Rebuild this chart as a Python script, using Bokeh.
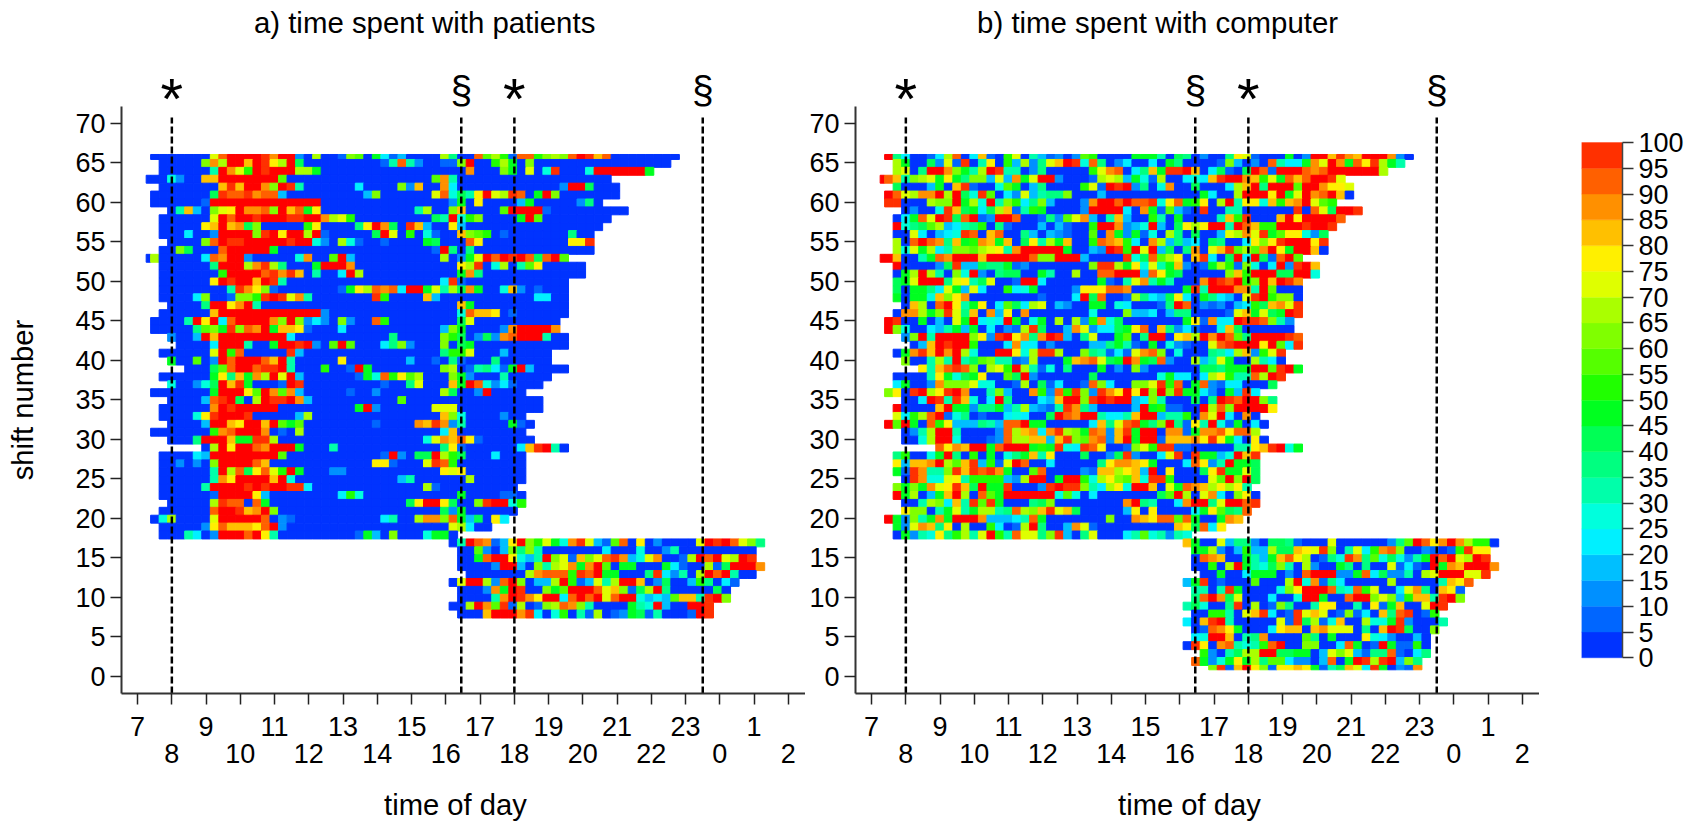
from bokeh.embed import file_html
from bokeh.resources import INLINE
from bokeh.plotting import figure
from bokeh.layouts import row
from bokeh.models import (ColumnDataSource, LinearColorMapper, LinearAxis, FixedTicker,
                          Range1d, AllLabels)
from bokeh.transform import transform

FONT = "Liberation Sans"

# level codes: 0-9,a-j = the 5 % classes of the colour bar, k = full 100 %
CODES = "0123456789abcdefghijk"
CLASS_COLORS = ["#0033ff", "#0066ff", "#0090ff", "#00bfff", "#00f0ff", "#00ffdd", "#00ffaa", "#00ff80",
                "#00ff55", "#00ff20", "#20ff00", "#55ff00", "#80ff00", "#aaff00", "#dfff00", "#fff000",
                "#ffc000", "#ff9000", "#ff6000", "#ff3000"]
FULL_COLOR = "#ff0000"
GAP = "." * 36

patients_rows = {
66: ".0000000ei kkkkjhkk20 d001cb0941 30000d700i bda1iiacdc ikjgi00000 000",
65: "..00000chd kkgkjfdk80 0000000016 i620011ck0 0ad90c0000 0000000000 00",
64: "..0000006k heakjkkkdd 9000000000 00000000h0 00c90e05j0 005kkkkkk9",
63: "0005200ggk kkkkkkb000 0000000000 0000bh6000 0000000000 00000",
62: "..0000000g jgkkhckj60 0000040000 c2g00h4000 0000000002 kk8000",
61: ".00000008j iijhii3000 0000003c00 0000ei586f kedji09kc0 000000",
60: ".0000001kk kkkkkkkkkk k000000000 000000290f 0000390000 0270",
59: "...06g30ce fkhhickgi9 f000000000 006d00cg00 00bkkkk100 0000000",
58: "..000000ek ikkjkkkjjk khdea00000 000086k5ac 00009kb000 00000",
57: "..00000fgk gh8c00000a f00007fkh8 0jg300f300 0000000000 0000",
56: "..0004002k kkkcjkfkkd k1000008ke 0a05100gcb a010000000 700",
55: "...0000cik jjkkkkkjkk 520d510010 00098000if 0000000000 ffj",
54: "..00c8000i kkkkk90000 0000000000 00001k7070 0000000000 000",
53: "0d000004ih kk2000005h 00bk300000 00000d029e kikjki8ikb",
52: "..0000007k kkdhjd7000 9kkkh00000 0000000fdj 05d06bf000 00",
51: "..0000000a kkkkijhjg0 6004kd0000 00000009h7 0000000000 00",
50: "..000000fk jkkgkj6000 0000000000 000004j100 0000000000",
49: "..00000000 6jhfc10000 00019fdihi 4kk9e6d8h9 005g201000",
48: "..00004c00 1ccajkjeh6 0000000ja0 000g300000 0000004400",
47: "...00007kk fhk6000000 0000000000 0000000g90 0000000000",
46: "..000000gk kkkkkkkkkk k200000000 00000005ig gf01000000",
45: ".00006kfk4 ikkkkhckc2 420c200ia0 00000008e0 000000000",
44: ".000007bc9 jcihk9ggf1 0004000000 000003c900 002hkkkkh",
43: "...2003kgk kkkkkkk400 0000000007 00000ca802 82hikkk600",
42: "....00004k kk6009kkjk 20bkb00047 c2000c0890 0000000000",
41: "..000000ek ai00000j30 0000000000 000007aae0 00300000",
40: "...900b02k ikkkigk600 000f000000 0300107100 07000000",
39: ".....0008b ikkijjk600 0a001k9000 00000cd016 7419k30000",
38: "..0000009f 7g9hdkek30 00000195ia fbd000c920 00600000",
37: "...500258k gj90001kj0 0000000010 07e000g9ki 5241000",
36: ".00000009k kkfbkhbh30 0000100200 00000d8002 k0000",
35: "...00003ij k80dkjjkh3 0000000000 b000000000 0000000",
34: "..000000hk jkkkkk0000 000009k200 0000eee000 0000000",
33: "..00005fjk kkj000003d 0000000000 00000gc500 00200",
32: "...00003kk gfkkgkb9b0 0000000100 00hgjh2600 000910",
31: ".0000000ah ikkkh010d0 0000000000 000004g000 00000",
30: "...0007kkk g99jjd0000 0000000000 0005ehgif1 000000",
29: ".......0dk fkkihkkk90 0060000000 000007f100 00004gjk60",
28: "..000043kk kkkkkkb000 000000001k 2088kda800 04000",
27: "..002020ck kkkig00000 0000000ff1 000ejia000 00000",
26: "..0000006k di8fieak90 0022000000 00000fef00 00000",
25: "..0000006h fkkkkgk500 0000000000 36000000d0 00000",
24: "..000006kk kkjkjkkjj4 0000000000 000d100000 0000",
23: "..0000001k kkkf300000 0004a50000 0000000900 00110",
22: "...00000dj ii0i900000 0000000000 08fkkf800c jkk5a",
21: "..000000ik kjghkc0000 0000000000 0000082900 0000",
20: ".05d0000ek kkkki02100 0000000046 00dhhci938 0f4",
19: "..000002fi gggfik2000 0000000000 000000ed40 0",
18: "..0006402k kkikf60000 000001930c 0005990",
17: GAP + "06kih13fkc ae95hje31b i0f020000e kjkiec7",
16: GAP + ".00b203c7c 6000000040 0050026000 000000",
15: GAP + ".009ikkf53 6kce1gceij h35eh001dk ikedkj",
14: GAP + ".00002kk30 c6deh9hkb0 9900094100 d18kkkh",
13: GAP + "..0000000d hiiiajik99 0007j4260d kik600",
12: GAP + "0ekkd2ikc0 33dka13e6d kkg028003a 7041",
11: GAP + ".0002h9kj0 0c9bkkkieg c18dk70000 080",
10: GAP + ".00006hkjh fkk4ikikei kk5343bgg6 jkc",
9: GAP + "00dkhbj1d0 1cdihc6000 0965k300kk j",
8: GAP + ".000gkkkhj 405a061d01 298160001k j",
}

computer_rows = {
66: ".k740014di 04g10ae063 1202ba0000 99960 87020 07fe100090 2kkgjhgkkk h20",
65: "..d90082e1 j06f0a3d27 egkj5i7024 0040970000 1c3020i644 9hekh9ifjd 96",
64: "..de07kkhc 96dkj66027 00000aehi0 47g9jjkg04 8108ki1kkk ihikkkkkkd",
63: "kig6cde9f9 7cc3e3h9ek k20001ded3 951d00454g jkkhgae9ig ikkje",
62: "..80003 90g j1005b9037 0000ae1kjk 2705h00800 04dgk7kkkb kkhffe",
61: ".kiedhhkdk 85jb042e36 77c0003000 0000000094 00dkkkfk9e khikg0",
60: ".jj000dcck 9d5k6ca47c 30002hkkik iij5fi9af0 dk6ff5gagh keba",
59: "...02005jg 8948dg16a9 00002kkkk4 0h91b310j0 066000000j 0ie8kkj",
58: "..049iekj8 ik12kki001 72beh306g3 00a6090000 6gaj000gkf kkkki",
57: "..k578bd34 67a0710003 03100akkh2 35k308fdfk k6kigaakkk jkkj",
56: "..00e40345 ji0gi00730 32100b0h92 9150d70800 3edhej9bff 528",
55: "..d0ikih7g 9ahg9g08f6 d9g00aihga 40hd373408 7004fcfjkk kfj",
54: "..d5e9d46c cbdef6hkkk kk90032kja kek3807h0e gjbdbhkf9k kg0",
53: "kkg0069ihk kkgkkkkkic ckkk30000j 58ibdf0gj4 08k4k81ikb",
52: "..k000028j 3387791200 00000cjjd9 f5e69g2019 da1c504k2j kg",
51: "..09dkd60c 5k20788009 600d00iikk k3if980000 0cgakkk88k k5",
50: "..89ekkk7e f68e001kk4 0000009106 eh696000hk jikackgkjh",
49: "..809974e9 3e400a4590 0002fffiih 0000009j6k kkhh6kb000",
48: "..90995gcf h000000001 0004k8i001 d7438f4097 430ejkacc0",
47: "...0gd0ikf 69f04b84de 0320099054 00017ki021 2034a8ghej",
46: "..0hhd9cje 7g0h3f0h00 000005000c 3340377000 01eg9e89kj",
45: ".kj009030e 9k454k9059 0d0d2ah580 0000009f1h 44kjjic62",
44: ".kc5004369 3904021dj8 003he24489 fi0g724100 5g8000000",
43: "...2ck6kkk kcf2jkfh7h kj307e009b 07kk0fgdkh kib7kkkkji",
42: "....03gkjk ka0004h440 2000033796 109052100e ijkkkfkb4j",
41: "..09hjgkhk d500kkf5dj jd00c76141 ehic050007 64dg2aej",
40: "...c006d6k 68bc6612d0 009ghie89k h98i200d36 e900d640",
39: ".....f6gij ic0deakd61 5070009020 c200000088 7999kkbjk9",
38: "..00006f95 89f00b8k20 0000080000 000594404d fa66idkj",
37: "..49002hcc ce55001d08 14001ic400 ccejai09i2 1440008",
36: ".cf0jkdfjk h006c300ha 2iajc2jhfk fkckcj9942 093j4",
35: "...004kj6j g504k70004 3gkkcjkjkk 34c6000807 kjikkc7",
34: "..k0000gk9 9277936d32 16jh730000 3k9a1100kd ickkkkf",
33: "..e4adik15 7010045400 8kihkk6446 gkk366a0he k40h0",
32: ".kbk90iaf3 33763iik99 000004g7ei j97ck71f6k 519040",
31: "...026dkk6 00002idgh4 hjdc9ih2gj 9kk0hh19hh ifiid",
30: "...005dkk5 00012iddgg 3gjcbhi2gk 9kk1ggghfj f940f0",
29: ".......ifh gkk9ikkk9a 9j54jif001 ceajj11000 0066fgjk59",
28: "..7a0059k7 0a090579g6 f00080028j 2004ej0j99 35kgj",
27: "..f3gghkdb gj3a1eki00 4000007fhh gf90004if2 6k998",
26: "..91jh66cj gjijh900bi 000021ggdf g3k0f0008f j99e8",
25: "...0jh55ef 6aaaa32dkk 09kka5dfcb g5jja0000e bkck8",
24: "..c9c9hefj g8k99j0002 jkjjc64df5 kkg0e9ihgd fdf6",
23: "..k9d039gk d0ib9kkkkk k5b5040000 0008bkd0eh 40cf0",
22: "...006dc4g 6jbj900078 c00000000h k76004hkk7 ekkij",
21: "...fcc069e 69dd67idcg jeg8000003 f0f000049f b87i",
20: ".k92c69h9k kkh33346i9 0000000c00 hgfiibi900 9hg",
19: "..92ehg7f0 d00a401dk7 003he10000 00000gf8i4 f",
18: "..09265f7a d6eka6iee7 cj307e0004 6b56265",
17: GAP + "g900e37720 8871000e00 000027bkif hkhdaa0",
16: GAP + ".99d203a33 d88gfejc06 e4ahic0021 01ajff",
15: GAP + ".0ihg00963 9gifd0175j h7b585269k ikedkj",
14: GAP + ".00a0dk965 8c60d20097 0700e1410k 9hgkkkh",
13: GAP + "..00900499 9020ikkk22 9i482260de kkkeej",
12: GAP + "39j01000b0 00dk5h1740 0000d00000 6gfi",
11: GAP + ".6606j9000 05cfkkki65 iae004eh70 gf1",
10: GAP + ".7ikh8e000 4005kk900i kkcec3agg6 jkc",
9: GAP + "685007j0d0 1c7006ff00 60f19g00ek j",
8: GAP + ".00aa60egj 401jege01c 140g7ij01a",
7: GAP + "40gjk60000 0e1j8d15g0 0d559j2000 6",
6: GAP + ".01ihf9000 4fgg0gheee 070gkj800c",
5: GAP + ".45kkg067h 0000b70900 0f5420030",
4: GAP + "0jf0hi656a ik00cc004i 901k911a0",
3: GAP + "..a2068ddk k889903ece 3177i1047",
2: GAP + ".i9259f9d7 bb42203i09 kjdjk3c7",
1: GAP + "...cj1gkfc 1ffgf9168g e4j9021h",
}

hour_ticks = list(range(7, 27))
odd_ticks = [7, 9, 11, 13, 15, 17, 19, 21, 23, 25]
even_ticks = [8, 10, 12, 14, 16, 18, 20, 22, 24, 26]
hour_names = {h: str(h % 24) for h in hour_ticks}
shift_ticks = list(range(0, 71, 5))
star_times = [8, 18]
para_times = [16.45, 23.5]
bar_ticks = list(range(0, 101, 5))

PAL = CLASS_COLORS + [FULL_COLOR]
mapper = LinearColorMapper(palette=PAL, low=0, high=105)

TOP = 106
BOTTOM = 135


def cells(rows):
    L, R, T, B, V = [], [], [], [], []
    for r, s in rows.items():
        s = s.replace(" ", "")
        for c, ch in enumerate(s):
            if ch == ".":
                continue
            i = CODES.index(ch)
            L.append(7.25 if c == 0 else 7.38 + 0.249 * (c - 1))
            R.append(7.38 + 0.249 * c)
            T.append(min(r + 0.40, 66.03))
            B.append(max(r - 0.60, 0.85))
            V.append(100 if i == 20 else 5 * i + 2.5)
    return dict(left=L, right=R, top=T, bottom=B, value=V)


def text_axis(ticks, text, size, standoff):
    return LinearAxis(ticker=FixedTicker(ticks=ticks), major_label_overrides={t: text for t in ticks},
                      major_label_policy=AllLabels(), axis_line_color=None, major_tick_line_color=None,
                      minor_tick_line_color=None, major_tick_out=0, major_tick_in=0,
                      major_label_standoff=standoff, major_label_text_font=FONT,
                      major_label_text_font_size=size, major_label_text_color="black")


def panel(rows, title, title_at, width, left, ylabel):
    p = figure(width=width, height=828, output_backend="svg", toolbar_location=None,
               x_range=Range1d(6.53, 26.5), y_range=Range1d(-2.15, 72.1),
               min_border_left=left, min_border_right=0, min_border_top=TOP, min_border_bottom=BOTTOM,
               outline_line_color=None, x_axis_type=None)
    p.grid.visible = False
    src = ColumnDataSource(cells(rows))
    col = transform("value", mapper)
    p.quad(left="left", right="right", top="top", bottom="bottom", source=src,
           fill_color=col, line_color=col, line_width=1)
    for t in star_times + para_times:
        p.segment(x0=[t], x1=[t], y0=[-2.15], y1=[70.7], line_color="black", line_width=2.5, line_dash="7 3")

    ya = p.yaxis[0]
    ya.ticker = FixedTicker(ticks=shift_ticks)
    ya.major_label_policy = AllLabels()
    ya.major_label_text_font = FONT
    ya.major_label_text_font_size = "27px"
    ya.major_label_text_color = "black"
    ya.major_tick_out = 11
    ya.major_tick_in = 0
    ya.minor_tick_line_color = None
    ya.major_tick_line_width = 1.5
    ya.major_tick_line_color = "#222222"
    ya.axis_line_color = "#333333"
    ya.axis_line_width = 2
    ya.major_label_standoff = 5
    if ylabel:
        ya.axis_label = ylabel
        ya.axis_label_text_font = FONT
        ya.axis_label_text_font_size = "29.2px"
        ya.axis_label_text_font_style = "normal"
        ya.axis_label_text_color = "black"
        ya.axis_label_standoff = 33

    a1 = LinearAxis(ticker=FixedTicker(ticks=hour_ticks),
                    major_label_overrides={h: (hour_names[h] if h in odd_ticks else "") for h in hour_ticks},
                    major_label_policy=AllLabels())
    a2 = LinearAxis(ticker=FixedTicker(ticks=even_ticks),
                    major_label_overrides={h: hour_names[h] for h in even_ticks},
                    major_label_policy=AllLabels(),
                    axis_line_color=None, major_tick_line_color=None, minor_tick_line_color=None,
                    major_tick_out=0, major_tick_in=0, major_label_standoff=5)
    a1.major_tick_out = 11
    a1.major_tick_in = 0
    a1.minor_tick_line_color = None
    a1.major_tick_line_width = 1.5
    a1.major_tick_line_color = "#222222"
    a1.axis_line_color = "#333333"
    a1.axis_line_width = 2
    a1.major_label_standoff = 12
    for a in (a1, a2):
        a.major_label_text_font = FONT
        a.major_label_text_font_size = "27px"
        a.major_label_text_color = "black"
        p.add_layout(a, "below")
    p.add_layout(text_axis([16.28], "time of day", "29.2px", 23), "below")

    p.add_layout(text_axis(para_times, "§", "39px", -4), "above")
    p.add_layout(text_axis(star_times, "*", "58px", -66), "above")
    p.add_layout(text_axis([title_at], title, "29.4px", 24), "above")
    return p


pa = panel(patients_rows, "a) time spent with patients", 15.38, 805, 121, "shift number")
pb = panel(computer_rows, "b) time spent with computer", 15.35, 734, 50, None)

# colour bar: same frame height as the panels, the axis itself only spans 0-100
bar = figure(width=151, height=828, output_backend="svg", toolbar_location=None,
             x_range=Range1d(0, 1), y_range=Range1d(-6.93, 107.0), x_axis_type=None, y_axis_location="right",
             min_border_left=42, min_border_right=68, min_border_top=TOP, min_border_bottom=BOTTOM,
             outline_line_color=None)
bar.grid.visible = False
bar.quad(left=0, right=1, bottom=bar_ticks[:-1], top=bar_ticks[1:], fill_color=CLASS_COLORS,
         line_color=CLASS_COLORS, line_width=0.4)
ba = bar.yaxis[0]
ba.ticker = FixedTicker(ticks=bar_ticks)
ba.bounds = (0, 100)
ba.major_label_policy = AllLabels()
ba.major_label_text_font = FONT
ba.major_label_text_font_size = "27px"
ba.major_label_text_color = "black"
ba.major_tick_out = 11
ba.major_tick_in = 0
ba.minor_tick_line_color = None
ba.major_tick_line_color = "#333333"
ba.major_tick_line_width = 1.5
ba.axis_line_color = "#444444"
ba.axis_line_width = 1.5
ba.major_label_standoff = 5

layout = row(pa, pb, bar)
open("out.html", "w").write(file_html(layout, INLINE))
